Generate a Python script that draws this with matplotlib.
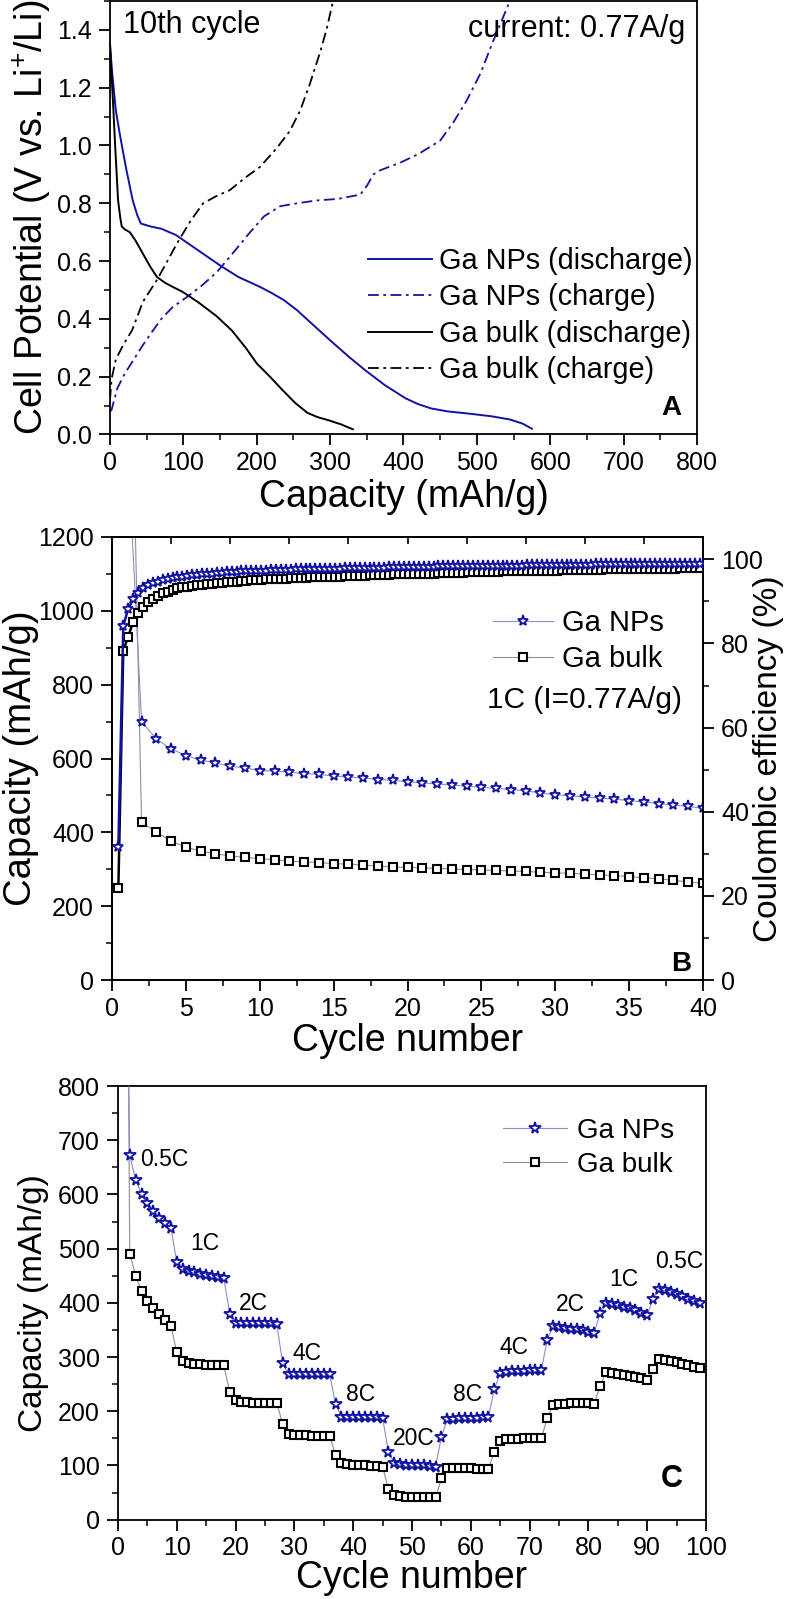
import numpy as np
import matplotlib
matplotlib.use('Agg')
import matplotlib.pyplot as plt
from matplotlib.ticker import MultipleLocator
from matplotlib.lines import Line2D

plt.rcParams['font.family'] = ['Liberation Sans', 'DejaVu Sans']
plt.rcParams['mathtext.fontset'] = 'custom'
plt.rcParams['mathtext.rm'] = 'Liberation Sans'
plt.rcParams['mathtext.default'] = 'regular'

###############################################################################
# data

# A: 10th cycle voltage profiles (capacity mAh/g, potential V)
np_dis_cap = [0, 3, 8, 14, 22, 31, 37, 42, 55, 70, 90, 110, 130, 150, 175, 205, 220,
              237, 255, 270, 300, 325, 348, 375, 403, 420, 438, 460, 490, 520, 545,
              562, 575]
np_dis_v = [1.35, 1.25, 1.12, 1.03, 0.92, 0.81, 0.76, 0.73, 0.72, 0.712, 0.69, 0.655,
            0.62, 0.585, 0.545, 0.51, 0.49, 0.465, 0.43, 0.395, 0.326, 0.27, 0.222,
            0.17, 0.125, 0.105, 0.09, 0.08, 0.072, 0.063, 0.052, 0.038, 0.02]
np_chg_cap = [0, 2, 10, 20, 29, 45, 60, 70, 85, 105, 125, 145, 165, 191, 210, 232, 255,
              282, 310, 341, 350, 359, 368, 395, 420, 450, 468, 486, 505, 522, 545]
np_chg_v = [0.08, 0.084, 0.16, 0.21, 0.246, 0.31, 0.365, 0.40, 0.44, 0.476, 0.515, 0.56,
            0.62, 0.70, 0.755, 0.79, 0.80, 0.81, 0.815, 0.83, 0.86, 0.90, 0.914, 0.94,
            0.97, 1.017, 1.08, 1.155, 1.25, 1.36, 1.5]
bulk_dis_cap = [0, 2, 4, 7, 11, 14, 16, 20, 27, 35, 45, 55, 64, 75, 86, 98, 110, 120,
                132, 145, 166, 185, 200, 218, 235, 252, 269, 283, 297, 315, 331]
bulk_dis_v = [1.35, 1.25, 1.155, 1.0, 0.81, 0.75, 0.72, 0.71, 0.70, 0.67, 0.625, 0.58,
              0.545, 0.525, 0.51, 0.495, 0.475, 0.458, 0.435, 0.41, 0.36, 0.30, 0.246, 0.2,
              0.154, 0.11, 0.075, 0.06, 0.05, 0.035, 0.018]
bulk_chg_cap = [0, 2, 8, 18, 30, 45, 64, 75, 91, 110, 127, 145, 163, 185, 204, 227, 245,
                259, 272, 286, 295, 304]
bulk_chg_v = [0.12, 0.19, 0.26, 0.31, 0.36, 0.46, 0.535, 0.585, 0.66, 0.74, 0.80, 0.825,
              0.845, 0.89, 0.925, 0.99, 1.05, 1.12, 1.21, 1.32, 1.40, 1.5]

# B: cycling at 1C, discharge capacity per cycle (cycle 1 is off scale)
b_cycles = np.arange(1, 41)
b_np_cap = [1500, 700, 653, 626, 608, 596, 588, 579, 575, 567, 566, 563, 559, 557, 552,
            550, 547, 543, 541, 537, 534, 531, 528, 525, 522, 519, 516, 512, 507, 502,
            499, 496, 493, 490, 486, 482, 478, 474, 470, 465]
b_bulk_cap = [2300, 428, 401, 376, 360, 349, 342, 336, 332, 329, 326, 322, 320, 318, 315,
              314, 311, 309, 306, 305, 304, 302, 301, 299, 298, 297, 295, 294, 292, 290,
              289, 287, 285, 283, 280, 277, 274, 270, 266, 262]

# B: coulombic efficiency (%), recorded three times per cycle
ce_x = 0.43 + np.arange(119) / 3.0
ce_np = [31.6, 84.2, 88.2, 90.5, 92.0, 93.1, 93.8, 94.3, 94.7, 95.0, 95.3, 95.5, 95.7,
         95.9, 96.0, 96.2, 96.3, 96.4, 96.5, 96.6, 96.7, 96.8, 96.9, 97.0,
         97.0, 97.1, 97.1, 97.2, 97.2, 97.3, 97.3, 97.4, 97.4, 97.5, 97.5, 97.5, 97.6,
         97.6, 97.6, 97.7, 97.7, 97.7, 97.8, 97.8, 97.8, 97.8, 97.9, 97.9,
         97.9, 97.9, 98.0, 98.0, 98.0, 98.0, 98.0, 98.1, 98.1, 98.1, 98.1, 98.1, 98.2,
         98.2, 98.2, 98.2, 98.2, 98.3, 98.3, 98.3, 98.3, 98.3, 98.3, 98.4,
         98.4, 98.4, 98.4, 98.4, 98.4, 98.5, 98.5, 98.5, 98.5, 98.5, 98.5, 98.6, 98.6,
         98.6, 98.6, 98.6, 98.6, 98.6, 98.7, 98.7, 98.7, 98.7, 98.7, 98.7,
         98.7, 98.8, 98.8, 98.8, 98.8, 98.8, 98.8, 98.8, 98.8, 98.9, 98.9, 98.9, 98.9,
         98.9, 98.9, 98.9, 98.9, 99.0, 99.0, 99.0, 99.0, 99.0, 99.0]
ce_bulk = [21.8, 78.3, 81.6, 85.2, 87.3, 88.7, 89.9, 90.6, 91.3, 91.9, 92.3, 92.8, 93.1,
           93.3, 93.5, 93.7, 93.8, 94.0, 94.1, 94.2, 94.3, 94.4, 94.5, 94.6,
           94.7, 94.8, 94.9, 95.0, 95.0, 95.1, 95.2, 95.2, 95.3, 95.4, 95.4, 95.5, 95.5,
           95.6, 95.6, 95.7, 95.7, 95.8, 95.8, 95.9, 95.9, 95.9, 96.0, 96.0,
           96.1, 96.1, 96.1, 96.2, 96.2, 96.3, 96.3, 96.3, 96.4, 96.4, 96.4, 96.5, 96.5,
           96.5, 96.6, 96.6, 96.6, 96.7, 96.7, 96.7, 96.8, 96.8, 96.8, 96.9,
           96.9, 96.9, 96.9, 97.0, 97.0, 97.0, 97.1, 97.1, 97.1, 97.1, 97.2, 97.2, 97.2,
           97.2, 97.3, 97.3, 97.3, 97.3, 97.4, 97.4, 97.4, 97.4, 97.5, 97.5,
           97.5, 97.5, 97.5, 97.6, 97.6, 97.6, 97.6, 97.6, 97.7, 97.7, 97.7, 97.7, 97.7,
           97.8, 97.8, 97.8, 97.8, 97.8, 97.9, 97.9, 97.9, 97.9, 97.9]

# C: rate capability, capacity per cycle (cycle 1 is off scale)
c_cycles = np.arange(1, 100)
c_np_cap = [1470, 672, 627, 600, 584, 570, 557, 547, 538,                 # 0.5C
            476, 462, 459, 456, 453, 451, 449, 447, 445,                  # 1C
            380, 363, 362, 362, 362, 362, 362, 362, 361,                  # 2C
            289, 268, 268, 268, 268, 268, 268, 268, 268,                  # 4C
            213, 190, 189, 189, 189, 189, 189, 189, 188,                  # 8C
            124, 105, 102, 101, 100, 100, 100, 99, 98,                    # 20C
            153, 185, 186, 187, 187, 188, 188, 189, 189,                  # 8C
            241, 270, 273, 274, 275, 275, 276, 276, 276,                  # 4C
            332, 357, 355, 354, 352, 351, 349, 347, 345,                  # 2C
            381, 400, 398, 396, 393, 390, 386, 382, 378,                  # 1C
            408, 425, 423, 420, 416, 412, 408, 404, 400]                  # 0.5C
c_bulk_cap = [2000, 491, 450, 422, 404, 391, 379, 368, 358,
              309, 292, 289, 288, 287, 286, 286, 285, 285,
              235, 220, 218, 217, 216, 216, 215, 215, 215,
              177, 158, 157, 156, 156, 155, 155, 155, 155,
              119, 104, 102, 101, 100, 100, 99, 99, 98,
              56, 45, 43, 42, 42, 41, 41, 41, 41,
              76, 96, 96, 95, 95, 95, 94, 94, 94,
              125, 146, 148, 149, 149, 150, 150, 150, 150,
              188, 211, 213, 214, 215, 215, 215, 215, 214,
              247, 272, 270, 269, 267, 265, 263, 261, 258,
              278, 296, 294, 292, 290, 287, 285, 282, 279]
rate_labels = ['0.5C', '1C', '2C', '4C', '8C', '20C', '8C', '4C', '2C', '1C', '0.5C']

###############################################################################
# styles and layout
BLUE = '#1212a2'
NP_LINE = '#8c8cc8'
BULK_LINE = '#909090'
DASHDOT = (0, (6, 2.5, 1.5, 2.5))

W, H = 790, 1599
fig = plt.figure(figsize=(W / 100, H / 100), dpi=100)


def box(l, t, r, b):
	# pixel box of the reference -> figure fraction
	return [l / W, 1 - b / H, (r - l) / W, (b - t) / H]


def style_axis(ax, lw=1.3):
	for s in ax.spines.values():
		s.set_linewidth(lw)
	ax.tick_params(which='major', direction='out', length=8, width=1.3, labelsize=18)
	ax.tick_params(which='minor', direction='out', length=4, width=1.1)
	ax.tick_params(axis='x', which='major', pad=4)
	ax.tick_params(axis='y', which='major', pad=5)


###############################################################################
# A
axa = fig.add_axes(box(110, 1, 697, 434.5))
axa.plot(np_dis_cap, np_dis_v, color=BLUE, lw=1.4, label='Ga NPs (discharge)')
axa.plot(np_chg_cap, np_chg_v, color=BLUE, lw=1.3, linestyle=DASHDOT, label='Ga NPs (charge)')
axa.plot(bulk_dis_cap, bulk_dis_v, color='black', lw=1.4, label='Ga bulk (discharge)')
axa.plot(bulk_chg_cap, bulk_chg_v, color='black', lw=1.3, linestyle=DASHDOT, label='Ga bulk (charge)')
axa.set_xlim(0, 800)
axa.set_ylim(0, 1.5)
axa.xaxis.set_major_locator(MultipleLocator(100))
axa.xaxis.set_minor_locator(MultipleLocator(50))
axa.yaxis.set_major_locator(MultipleLocator(0.2))
axa.yaxis.set_minor_locator(MultipleLocator(0.1))
style_axis(axa)
axa.set_xlabel('Capacity (mAh/g)', fontsize=27)
axa.set_ylabel('Cell Potential (V vs. Li$^{+}$/Li)', fontsize=27)
axa.xaxis.set_label_coords(0.5, -0.103)
axa.yaxis.set_label_coords(-0.097, 0.5)
axa.text(0.022, 0.927, '10th cycle', transform=axa.transAxes, fontsize=22, va='baseline')
axa.text(0.98, 0.917, 'current: 0.77A/g', transform=axa.transAxes, fontsize=22,
	va='baseline', ha='right')
axa.text(0.957, 0.045, 'A', transform=axa.transAxes, fontsize=20, fontweight='bold',
	va='baseline', ha='center')
axa.legend(loc='upper left', bbox_to_anchor=(368 / W, 1 - 247 / H),
	bbox_transform=fig.transFigure, frameon=False, borderpad=0, borderaxespad=0,
	handlelength=2.2, handletextpad=0.25, labelspacing=0.29, fontsize=20.8)

###############################################################################
# B
axb = fig.add_axes(box(112, 537, 703, 980))
axb.plot(b_cycles, b_np_cap, color=NP_LINE, lw=0.8, marker='*', ms=8, mfc='white',
	mec=BLUE, mew=1.3, zorder=3)
axb.plot(b_cycles, b_bulk_cap, color=BULK_LINE, lw=0.8, marker='s', ms=5.5, mfc='white',
	mec='black', mew=1.5, zorder=2)
axb.set_xlim(0, 40)
axb.set_ylim(0, 1200)
axb.xaxis.set_major_locator(MultipleLocator(5))
axb.xaxis.set_minor_locator(MultipleLocator(2.5))
axb.yaxis.set_major_locator(MultipleLocator(200))
axb.yaxis.set_minor_locator(MultipleLocator(100))
style_axis(axb)
axb.set_xlabel('Cycle number', fontsize=27)
axb.set_ylabel('Capacity (mAh/g)', fontsize=27.5)
axb.xaxis.set_label_coords(0.5, -0.097)
axb.yaxis.set_label_coords(-0.124, 0.5)

top = axb.secondary_xaxis('top')
top.set_xticks(np.arange(0, 41, 4))
top.tick_params(direction='in', length=5, width=1.2, labeltop=False)
top.spines['top'].set_linewidth(1.3)

axce = axb.twinx()
axce.plot(ce_x, ce_bulk, color='black', lw=1.8, marker='s', ms=5.5, mfc='white',
	mec='black', mew=1.5, zorder=2)
axce.plot(ce_x, ce_np, color=BLUE, lw=1.8, marker='*', ms=8, mfc='white',
	mec=BLUE, mew=1.3, zorder=3)
axce.set_ylim(0, 105.3)
axce.yaxis.set_major_locator(MultipleLocator(20))
axce.yaxis.set_minor_locator(MultipleLocator(10))
style_axis(axce)
axce.set_ylabel('Coulombic efficiency (%)', fontsize=24)
axce.yaxis.set_label_coords(1.085, 0.5)

b_handles = [
	Line2D([], [], color=NP_LINE, lw=0.8, marker='*', ms=8, mfc='white', mec=BLUE, mew=1.3),
	Line2D([], [], color=BULK_LINE, lw=0.8, marker='s', ms=5.5, mfc='white', mec='black', mew=1.5),
]
axce.legend(b_handles, ['Ga NPs', 'Ga bulk'], loc='upper left',
	bbox_to_anchor=(493 / W, 1 - 609 / H), bbox_transform=fig.transFigure,
	frameon=False, borderpad=0, borderaxespad=0, handlelength=2.05,
	handletextpad=0.31, labelspacing=0.27, fontsize=21, numpoints=1)
axce.text(0.964, 0.614, '1C (I=0.77A/g)', transform=axce.transAxes, fontsize=21.5,
	va='baseline', ha='right')
axce.text(0.963, 0.02, 'B', transform=axce.transAxes, fontsize=20, fontweight='bold',
	va='baseline', ha='center')

###############################################################################
# C
axc = fig.add_axes(box(118, 1086, 706, 1519.7))
axc.plot(c_cycles, c_bulk_cap, color=BULK_LINE, lw=0.8, marker='s', ms=5.5, mfc='white',
	mec='black', mew=1.5, zorder=2)
axc.plot(c_cycles, c_np_cap, color=NP_LINE, lw=0.8, marker='*', ms=8.5, mfc='white',
	mec=BLUE, mew=1.3, zorder=3)
axc.set_xlim(0, 100)
axc.set_ylim(0, 800)
axc.xaxis.set_major_locator(MultipleLocator(10))
axc.xaxis.set_minor_locator(MultipleLocator(5))
axc.yaxis.set_major_locator(MultipleLocator(100))
axc.yaxis.set_minor_locator(MultipleLocator(50))
style_axis(axc)
axc.set_xlabel('Cycle number', fontsize=27)
axc.set_ylabel('Capacity (mAh/g)', fontsize=24)
axc.xaxis.set_label_coords(0.5, -0.093)
axc.yaxis.set_label_coords(-0.118, 0.5)

# rate labels, placed next to each step (axes fraction)
rate_pos = [(0.079, 0.815), (0.148, 0.621), (0.231, 0.483), (0.321, 0.368),
            (0.412, 0.273), (0.503, 0.172), (0.594, 0.273), (0.674, 0.382),
            (0.770, 0.481), (0.861, 0.538), (0.955, 0.580)]
for lab, (fx, fy) in zip(rate_labels, rate_pos):
	axc.text(fx, fy, lab, transform=axc.transAxes, fontsize=16.5, ha='center', va='baseline')
axc.text(0.942, 0.075, 'C', transform=axc.transAxes, fontsize=22, fontweight='bold',
	va='baseline', ha='center')

c_handles = [
	Line2D([], [], color=NP_LINE, lw=0.8, marker='*', ms=8.5, mfc='white', mec=BLUE, mew=1.3),
	Line2D([], [], color=BULK_LINE, lw=0.8, marker='s', ms=5.5, mfc='white', mec='black', mew=1.5),
]
axc.legend(c_handles, ['Ga NPs', 'Ga bulk'], loc='upper left',
	bbox_to_anchor=(503 / W, 1 - 1118 / H), bbox_transform=fig.transFigure,
	frameon=False, borderpad=0, borderaxespad=0, handlelength=2.3,
	handletextpad=0.36, labelspacing=0.27, fontsize=20, numpoints=1)

fig.savefig('out.png', dpi=100)
